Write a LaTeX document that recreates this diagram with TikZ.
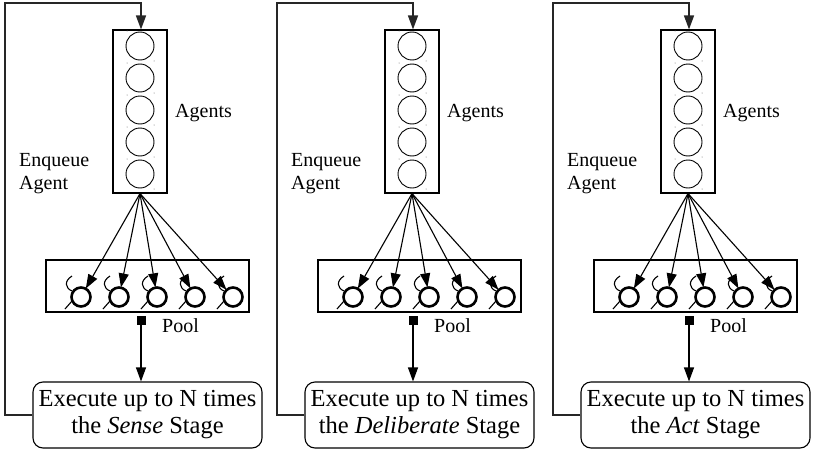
\documentclass[tikz,border=0pt]{standalone}
\usepackage{fontspec}
\setmainfont{Liberation Serif}
\usetikzlibrary{arrows.meta,calc}

\begin{document}
\begin{tikzpicture}[x=1pt,y=-1pt,
  framebox/.style={draw, line width=1.1pt, inner sep=0pt},
  agentdisc/.style={circle, draw, line width=0.9pt, minimum size=28pt, inner sep=0pt},
  pooldisc/.style={circle, draw, line width=2.6pt, minimum size=19pt, inner sep=0pt},
  fan/.style={line width=1.1pt, shorten >=-1pt, -{Triangle[length=14pt,width=10pt]}},
  loopline/.style={line width=1.5pt, draw=black!85, -{Triangle[length=14pt,width=10pt]}},
  feed/.style={line width=1.1pt, -{Triangle[length=14pt,width=10pt]}},
  squig/.style={line width=1.1pt},
  lbl/.style={font=\fontsize{20}{23}\selectfont, inner sep=0pt, align=left},
  stagebox/.style={draw, rounded corners=10pt, line width=1.1pt, minimum width=229pt,
    minimum height=66pt, align=center, inner sep=0pt, font=\fontsize{24.5}{27}\selectfont}]
\useasboundingbox (0,0) rectangle (813,452);

\foreach \o/\s/\st in {0/a/Sense, 272/b/Deliberate, 548/c/Act}{
  % queue of agents
  \node[framebox, minimum width=54pt, minimum height=163pt] (ag\s) at (140+\o,111.5) {};
  \foreach \k in {0,...,4}{
    \node[agentdisc] (ad\s\k) at (140+\o,46+32*\k) {};
    \fill[black!60] (127+\o,31+32*\k) circle (0.5pt) (154+\o,61+32*\k) circle (0.5pt);
  }
  \node[lbl, anchor=west] (agl\s) at (175+\o,113) {Agents};
  \node[lbl, anchor=west] (enq\s) at (19+\o,174) {Enqueue\\Agent};

  % pool of agents
  \node[framebox, minimum width=203pt, minimum height=52pt] (pool\s) at (147.5+\o,286) {};
  \foreach \k in {0,...,4}{
    \node[pooldisc] (pd\s\k) at (81+38*\k+\o,297) {};
    \draw[squig] ($(pd\s\k)+(-9,-21)$) .. controls ($(pd\s\k)+(-17,-16)$) and ($(pd\s\k)+(-16,-9)$) .. ($(pd\s\k)+(-9,-6)$);
    \draw[squig] ($(pd\s\k)+(-9,4)$) -- ($(pd\s\k)+(-16,12)$);
    \draw[fan] (ag\s.south) -- (pd\s\k);
  }
  \node[fill=black, minimum size=9pt, inner sep=0pt] (sq\s) at (141+\o,320) {};
  \node[lbl, anchor=west] (pl\s) at (162+\o,326) {Pool};

  % stage executor
  \node[stagebox] (ex\s) at (147.5+\o,415) {Execute up to N times\\the \textit{\st} Stage};
  \draw[feed] (sq\s.south) -- (ex\s.north -| sq\s.south);

  % loop back to the queue
  \coordinate (lp\s) at (5+\o,3);
  \draw[loopline] (ex\s.west) -| (lp\s) -| ($(ag\s.north)+(1,0)$);
}
\end{tikzpicture}
\end{document}
